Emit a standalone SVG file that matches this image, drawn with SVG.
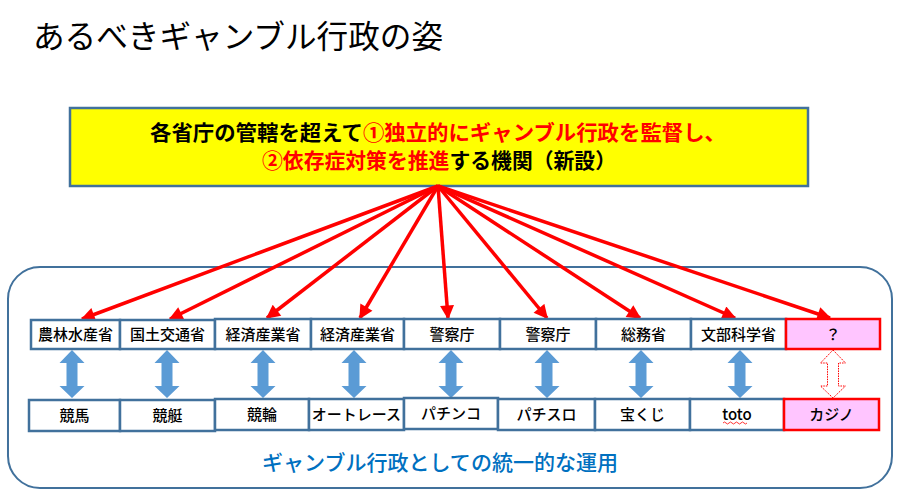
<svg xmlns="http://www.w3.org/2000/svg" width="902" height="498" viewBox="0 0 902 498">
<defs>
<style>
.t{font-family:"Noto Sans CJK JP","Liberation Sans",sans-serif;}
.box{fill:#fff;stroke:#41719C;stroke-width:2.5;}
.pbox{fill:#FFC5FF;stroke:#FF0000;stroke-width:2.5;}
.lbl{font-size:15px;font-weight:500;text-anchor:middle;fill:#000;}
.red{stroke:#FF0000;stroke-width:3.5;fill:none;}
.darr{fill:#5B9BD5;}
</style>
<marker id="ah" viewBox="0 0 10 10" refX="9" refY="5" markerUnits="userSpaceOnUse" markerWidth="15" markerHeight="14" orient="auto">
<path d="M0,0 L10,5 L0,10 Z" fill="#FF0000"/>
</marker>
<path id="dbl" d="M0,0 L12.5,13 L5.5,13 L5.5,36 L12.5,36 L0,48 L-12.5,36 L-5.5,36 L-5.5,13 L-12.5,13 Z"/>
</defs>
<rect width="902" height="498" fill="#fff"/>
<text class="t" x="33" y="48" font-size="31.5" fill="#000" textLength="410" lengthAdjust="spacingAndGlyphs">あるべきギャンブル行政の姿</text>

<g id="agency">
<rect x="70" y="108" width="738" height="78" fill="#FFFF00" stroke="#41719C" stroke-width="2.5"/>
<text class="t" x="150" y="140" font-size="21" font-weight="bold" fill="#000" textLength="576" lengthAdjust="spacingAndGlyphs">各省庁の管轄を超えて<tspan fill="#FF0000">①独立的にギャンブル行政を監督し、</tspan></text>
<text class="t" x="262" y="168" font-size="21" font-weight="bold" textLength="354" lengthAdjust="spacingAndGlyphs"><tspan fill="#FF0000">②依存症対策を推進</tspan><tspan fill="#000">する機関（新設）</tspan></text>
</g>

<g id="container">
<rect x="8" y="267" width="884" height="221" rx="32" ry="32" fill="none" stroke="#41719C" stroke-width="2"/>
<text class="t" x="262" y="470" font-size="21" font-weight="500" fill="#0070C0" textLength="356" lengthAdjust="spacingAndGlyphs">ギャンブル行政としての統一的な運用</text>
</g>

<g id="connectors">
<line class="red" x1="438" y1="186" x2="82" y2="319" marker-end="url(#ah)"/>
<line class="red" x1="438" y1="186" x2="170" y2="319" marker-end="url(#ah)"/>
<line class="red" x1="438" y1="186" x2="267" y2="318" marker-end="url(#ah)"/>
<line class="red" x1="438" y1="186" x2="360" y2="318" marker-end="url(#ah)"/>
<line class="red" x1="438" y1="186" x2="448" y2="318" marker-end="url(#ah)"/>
<line class="red" x1="438" y1="186" x2="547" y2="318" marker-end="url(#ah)"/>
<line class="red" x1="438" y1="186" x2="640" y2="318" marker-end="url(#ah)"/>
<line class="red" x1="438" y1="186" x2="735" y2="318" marker-end="url(#ah)"/>
<line class="red" x1="438" y1="186" x2="830" y2="318" marker-end="url(#ah)"/>
<use href="#dbl" class="darr" x="72" y="350"/>
<use href="#dbl" class="darr" x="167" y="350"/>
<use href="#dbl" class="darr" x="263" y="350"/>
<use href="#dbl" class="darr" x="354" y="350"/>
<use href="#dbl" class="darr" x="451" y="350"/>
<use href="#dbl" class="darr" x="547" y="350"/>
<use href="#dbl" class="darr" x="641" y="350"/>
<use href="#dbl" class="darr" x="740" y="350"/>
<use href="#dbl" x="833" y="350" fill="#fff" stroke="#FF0000" stroke-width="1" stroke-dasharray="1.5 1"/>
</g>

<g id="n-nourin"><rect class="box" x="31" y="320" width="89" height="29"/><text class="t lbl" x="75.5" y="340">農林水産省</text></g>
<g id="n-kokudo"><rect class="box" x="120" y="320" width="95" height="29"/><text class="t lbl" x="167.5" y="340">国土交通省</text></g>
<g id="n-keizai1"><rect class="box" x="215" y="319" width="96" height="30"/><text class="t lbl" x="263" y="340">経済産業省</text></g>
<g id="n-keizai2"><rect class="box" x="311" y="319" width="93" height="30"/><text class="t lbl" x="357.5" y="340">経済産業省</text></g>
<g id="n-keisatsu1"><rect class="box" x="404" y="319" width="96" height="30"/><text class="t lbl" x="452" y="340">警察庁</text></g>
<g id="n-keisatsu2"><rect class="box" x="500" y="319" width="96" height="30"/><text class="t lbl" x="548" y="340">警察庁</text></g>
<g id="n-soumu"><rect class="box" x="596" y="319" width="95" height="30"/><text class="t lbl" x="643.5" y="340">総務省</text></g>
<g id="n-monka"><rect class="box" x="691" y="319" width="95" height="30"/><text class="t lbl" x="738.5" y="340">文部科学省</text></g>
<g id="n-q"><rect class="pbox" x="786" y="319" width="94" height="30"/><text class="t lbl" x="833" y="340">？</text></g>

<g id="n-keiba"><rect class="box" x="29" y="400" width="91" height="31"/><text class="t lbl" x="74.5" y="421">競馬</text></g>
<g id="n-kyotei"><rect class="box" x="120" y="400" width="95" height="31"/><text class="t lbl" x="167.5" y="421">競艇</text></g>
<g id="n-keirin"><rect class="box" x="215" y="399" width="94" height="31"/><text class="t lbl" x="262" y="420">競輪</text></g>
<g id="n-auto"><rect class="box" x="309" y="399" width="95" height="31"/><text class="t lbl" x="356.5" y="420">オートレース</text></g>
<g id="n-pachinko"><rect class="box" x="404" y="398" width="94" height="31"/><text class="t lbl" x="451" y="419">パチンコ</text></g>
<g id="n-pachislo"><rect class="box" x="498" y="399" width="97" height="31"/><text class="t lbl" x="546.5" y="420">パチスロ</text></g>
<g id="n-takarakuji"><rect class="box" x="595" y="399" width="95" height="31"/><text class="t lbl" x="642.5" y="420">宝くじ</text></g>
<g id="n-toto"><rect class="box" x="690" y="399" width="94" height="31"/><text class="t lbl" x="737" y="420">toto</text>
<path d="M723,423 q1.5,-2 3,0 t3,0 t3,0 t3,0 t3,0 t3,0 t3,0 t3,0" fill="none" stroke="#FF0000" stroke-width="0.8"/></g>
<g id="n-casino"><rect class="pbox" x="784" y="399" width="95" height="31"/><text class="t lbl" x="831.5" y="420">カジノ</text></g>
</svg>
